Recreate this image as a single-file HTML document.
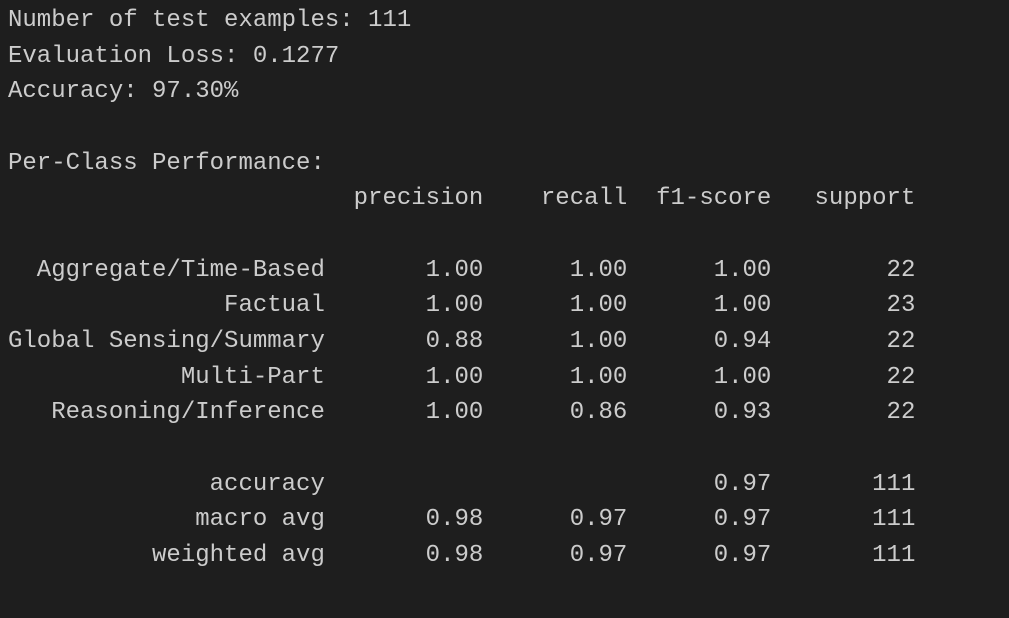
<!DOCTYPE html>
<html>
<head>
<meta charset="utf-8">
<style>
  html, body { margin: 0; padding: 0; }
  body {
    width: 1009px; height: 618px; overflow: hidden;
    background: #1e1e1e;
  }
  pre {
    margin: 0;
    padding: 3px 0 0 8px;
    font-family: "Liberation Mono", "DejaVu Sans Mono", monospace;
    font-size: 24px;
    line-height: 35.67px;
    color: #cccccc;
    white-space: pre;
  }
</style>
</head>
<body>
<pre>Number of test examples: 111
Evaluation Loss: 0.1277
Accuracy: 97.30%

Per-Class Performance:
                        precision    recall  f1-score   support

  Aggregate/Time-Based       1.00      1.00      1.00        22
               Factual       1.00      1.00      1.00        23
Global Sensing/Summary       0.88      1.00      0.94        22
            Multi-Part       1.00      1.00      1.00        22
   Reasoning/Inference       1.00      0.86      0.93        22

              accuracy                           0.97       111
             macro avg       0.98      0.97      0.97       111
          weighted avg       0.98      0.97      0.97       111
</pre>
</body>
</html>
